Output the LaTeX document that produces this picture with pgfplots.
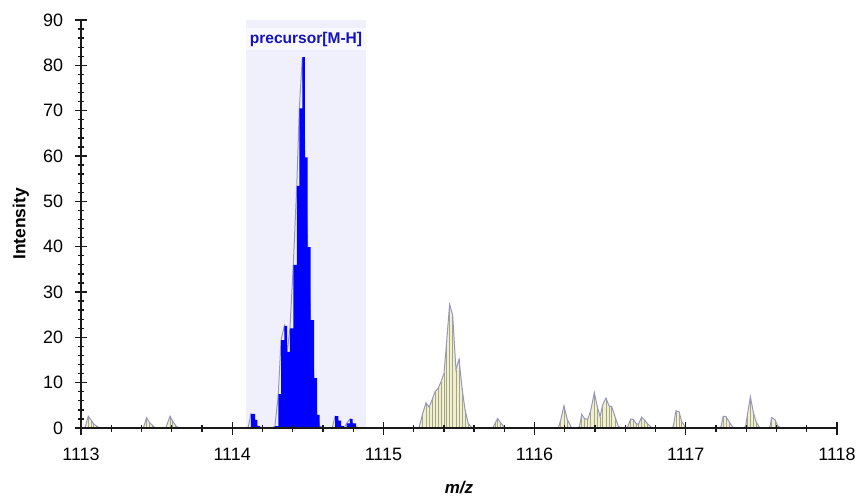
\documentclass[border=0pt]{standalone}
\usepackage{pgfplots}
\pgfplotsset{compat=1.18}
\usepackage{pgfplotstable}
\usepackage{fontspec}
\setmainfont{Liberation Sans}
\definecolor{regionbg}{RGB}{240,240,252}
\definecolor{labelbg}{RGB}{248,248,254}
\definecolor{outline}{RGB}{150,150,195}
\definecolor{paleyel}{RGB}{240,240,205}
\definecolor{combcol}{RGB}{165,165,140}
\definecolor{labblue}{RGB}{20,20,185}
\definecolor{axcol}{RGB}{25,25,25}

\pgfplotstableread{
x y
1114.105 0
1114.124 3.1
1114.151 1.8
1114.166 0.4
1114.184 0
1114.265 0
1114.283 0.4
1114.305 7.5
1114.323 19.4
1114.345 22.5
1114.364 16.8
1114.382 22
1114.404 36
1114.427 53.4
1114.444 70.5
1114.464 81.8
1114.481 59.7
1114.499 39.9
1114.519 23.8
1114.541 11
1114.561 2.9
1114.579 0.3
1114.596 0
1114.662 0
1114.680 2.6
1114.702 1.6
1114.720 0.4
1114.739 0
1114.757 1.0
1114.779 2.0
1114.797 1.0
1114.819 0.2
1114.845 0
}\precursor

\pgfplotstableread{
x y
1113.026 0
1113.048 2.6
1113.066 1.8
1113.081 1.0
1113.103 0.4
1113.126 0
1113.412 0
1113.434 2.3
1113.453 1.2
1113.472 0.6
1113.489 0
1113.560 0
1113.589 2.6
1113.606 1.5
1113.625 0.6
1113.644 0
1115.235 0
1115.260 3.2
1115.282 5.6
1115.302 4.6
1115.323 6.3
1115.341 8.0
1115.363 8.8
1115.381 10.2
1115.401 12.1
1115.419 19.4
1115.438 27.3
1115.458 24.9
1115.480 12.9
1115.500 15.2
1115.520 8.8
1115.540 4.0
1115.561 1.0
1115.578 0.3
1115.595 0
1115.723 0
1115.738 1.0
1115.756 2.1
1115.774 1.2
1115.791 0.5
1115.811 0
1116.157 0
1116.173 1.8
1116.194 4.9
1116.216 1.9
1116.245 0
1116.286 0
1116.296 0.3
1116.312 3.0
1116.329 2.1
1116.351 1.9
1116.371 3.8
1116.395 7.8
1116.415 4.7
1116.433 2.5
1116.450 5.1
1116.472 6.6
1116.492 4.9
1116.510 4.7
1116.532 2.5
1116.554 0.4
1116.571 0
1116.606 0
1116.616 0.3
1116.636 2.0
1116.653 1.9
1116.671 1.0
1116.686 0.8
1116.708 2.4
1116.726 1.8
1116.745 1.0
1116.770 0.2
1116.785 0
1116.905 0
1116.917 0.3
1116.935 3.8
1116.955 3.6
1116.973 1.4
1116.995 0.3
1117.010 0
1117.220 0
1117.233 0.3
1117.248 2.6
1117.266 2.5
1117.286 1.4
1117.308 0.3
1117.322 0
1117.385 0
1117.396 0.5
1117.409 3.2
1117.427 6.9
1117.446 3.6
1117.464 1.4
1117.484 0.3
1117.498 0
1117.545 0
1117.557 0.3
1117.568 2.3
1117.590 1.8
1117.608 0.5
1117.623 0.1
1117.640 0
}\others

\begin{document}
\begin{tikzpicture}
\begin{axis}[
  scale only axis,
  width=756bp, height=408bp,
  xmin=1113, xmax=1118, ymin=0, ymax=90,
  axis x line=bottom, axis y line=left,
  axis line style={-, draw=axcol, line width=1.6pt},
  axis on top,
  xtick={1113,1114,1115,1116,1117,1118},
  ytick={0,10,...,90},
  minor x tick num=4, minor y tick num=4,
  tick align=center,
  major tick length=13bp, minor tick length=7bp,
  every tick/.style={draw=axcol, line width=1.3pt},
  /pgf/number format/assume math mode=true,
  x tick label style={/pgf/number format/set thousands separator={}},
  ticklabel style={font=\fontsize{18}{20}\selectfont, text=black},
  xticklabel style={yshift=-10bp},
  yticklabel style={xshift=-8bp},
  xlabel={\textbf{\textit{m/z}}},
  ylabel={\textbf{Intensity}},
  every axis x label/.style={at={(axis description cs:0.5,-0.147)}, anchor=center, font=\fontsize{17}{20}\selectfont},
  every axis y label/.style={at={(axis description cs:-0.0794,0.5)}, anchor=center, rotate=90, font=\fontsize{17.5}{20}\selectfont},
  clip=false,
]
% precursor region
\fill[regionbg] (axis cs:1114.091,0) rectangle (axis cs:1114.885,90);
\fill[labelbg] (axis cs:1114.091,83.4) rectangle (axis cs:1114.885,88.2);
\node[text=labblue, font=\fontsize{15.6}{17}\selectfont\bfseries] at (axis cs:1114.488,85.8) {precursor[M-H]};

% other peaks
\addplot[draw=none, fill=paleyel] table[x=x,y=y] {\others} \closedcycle;
\addplot[ycomb, draw=combcol, line width=0.6pt, mark=none] table[x=x,y=y] {\others};
\addplot[draw=outline, line width=1pt, mark=none] table[x=x,y=y] {\others};

% precursor peaks
\addplot[draw=outline, line width=1pt, mark=none] table[x=x,y=y] {\precursor};
\addplot[const plot, draw=none, fill=blue] table[x=x,y=y] {\precursor} \closedcycle;
\end{axis}
\pgfresetboundingbox
\path[use as bounding box] (-81bp,-71bp) rectangle (775bp,428bp);
\end{tikzpicture}
\end{document}
